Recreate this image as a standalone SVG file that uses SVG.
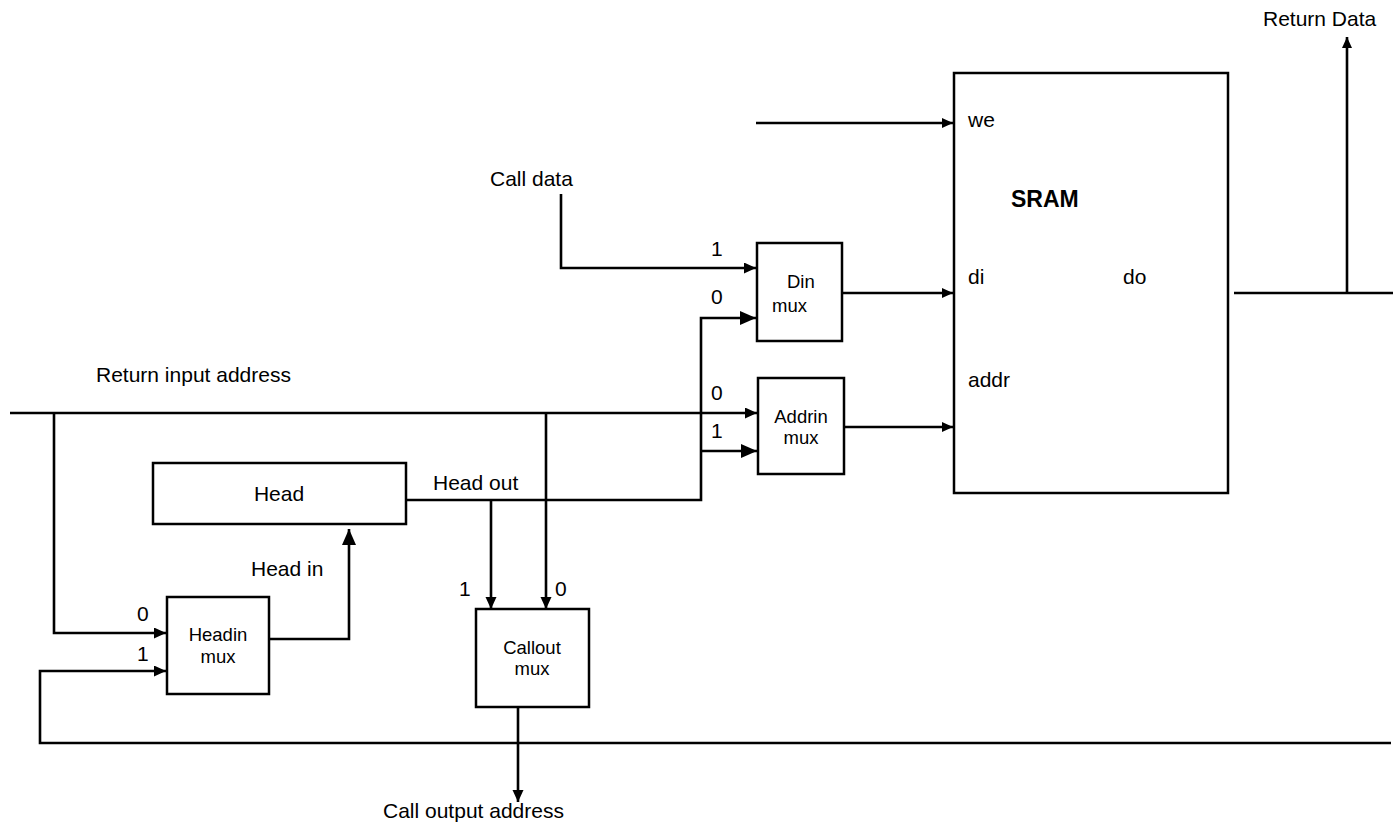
<svg xmlns="http://www.w3.org/2000/svg" width="1393" height="826" viewBox="0 0 1393 826">
<style>
.box{fill:#fff;stroke:#000;stroke-width:2.5}
.w{fill:none;stroke:#000;stroke-width:2.6}
.t{font-family:"Liberation Sans",Arial,sans-serif;font-size:21px;fill:#000}
.m{font-family:"Liberation Sans",Arial,sans-serif;font-size:18.5px;fill:#000}
.b{font-family:"Liberation Sans",Arial,sans-serif;font-size:23px;font-weight:bold;fill:#000}
</style>
<defs>
<marker id="as" markerUnits="userSpaceOnUse" markerWidth="12" markerHeight="11" refX="11" refY="5" orient="auto"><path d="M0,0 L11,5 L0,10 z" fill="#000"/></marker>
<marker id="am" markerUnits="userSpaceOnUse" markerWidth="13" markerHeight="12" refX="12" refY="5.5" orient="auto"><path d="M0,0 L12,5.5 L0,11 z" fill="#000"/></marker>
<marker id="al" markerUnits="userSpaceOnUse" markerWidth="17" markerHeight="15" refX="16" refY="7" orient="auto"><path d="M0,0 L16,7 L0,14 z" fill="#000"/></marker>
</defs>
<rect width="1393" height="826" fill="#fff"/>

<g id="connectors">
<path class="w" d="M756,123 H953" marker-end="url(#as)"/>
<path class="w" d="M561,194 V268 H756" marker-end="url(#am)"/>
<path class="w" d="M406,500 H701 V318 H756" marker-end="url(#al)"/>
<path class="w" d="M701,451 H757" marker-end="url(#al)"/>
<path class="w" d="M10,413 H757" marker-end="url(#am)"/>
<path class="w" d="M842,293 H953" marker-end="url(#as)"/>
<path class="w" d="M842,427 H953" marker-end="url(#as)"/>
<path class="w" d="M1234,293 H1393"/>
<path class="w" d="M1347,293 V37" marker-end="url(#as)"/>
<path class="w" d="M54,413 V633 H166" marker-end="url(#am)"/>
<path class="w" d="M1391,743 H40 V671 H166" marker-end="url(#am)"/>
<path class="w" d="M269,639 H349 V529" marker-end="url(#al)"/>
<path class="w" d="M491,500 V609" marker-end="url(#am)"/>
<path class="w" d="M546,413 V609" marker-end="url(#am)"/>
<path class="w" d="M518,707 V802" marker-end="url(#am)"/>
</g>

<g id="sram">
<rect class="box" x="954" y="73" width="274" height="420"/>
<text class="t" x="968" y="127">we</text>
<text class="b" x="1011" y="207">SRAM</text>
<text class="t" x="968" y="284">di</text>
<text class="t" x="1123" y="284">do</text>
<text class="t" x="968" y="387">addr</text>
</g>

<g id="din-mux">
<rect class="box" x="757" y="243" width="85" height="98"/>
<text class="m" x="787" y="288">Din</text>
<text class="m" x="772" y="312">mux</text>
</g>

<g id="addrin-mux">
<rect class="box" x="758" y="378" width="86" height="96"/>
<text class="m" x="801" y="423" text-anchor="middle">Addrin</text>
<text class="m" x="801" y="444" text-anchor="middle">mux</text>
</g>

<g id="head">
<rect class="box" x="153" y="463" width="253" height="61"/>
<text class="t" x="279" y="501" text-anchor="middle">Head</text>
</g>

<g id="headin-mux">
<rect class="box" x="167" y="597" width="102" height="97"/>
<text class="m" x="218" y="641" text-anchor="middle">Headin</text>
<text class="m" x="218" y="663" text-anchor="middle">mux</text>
</g>

<g id="callout-mux">
<rect class="box" x="476" y="609" width="113" height="98"/>
<text class="m" x="532" y="654" text-anchor="middle">Callout</text>
<text class="m" x="532" y="675" text-anchor="middle">mux</text>
</g>

<g id="labels">
<text class="t" x="1263" y="26">Return Data</text>
<text class="t" x="490" y="186">Call data</text>
<text class="t" x="96" y="382">Return input address</text>
<text class="t" x="433" y="490">Head out</text>
<text class="t" x="251" y="576">Head in</text>
<text class="t" x="383" y="818">Call output address</text>
<text class="t" x="711" y="256">1</text>
<text class="t" x="711" y="304">0</text>
<text class="t" x="711" y="400">0</text>
<text class="t" x="711" y="438">1</text>
<text class="t" x="137" y="621">0</text>
<text class="t" x="137" y="661">1</text>
<text class="t" x="459" y="596">1</text>
<text class="t" x="555" y="596">0</text>
</g>
</svg>
